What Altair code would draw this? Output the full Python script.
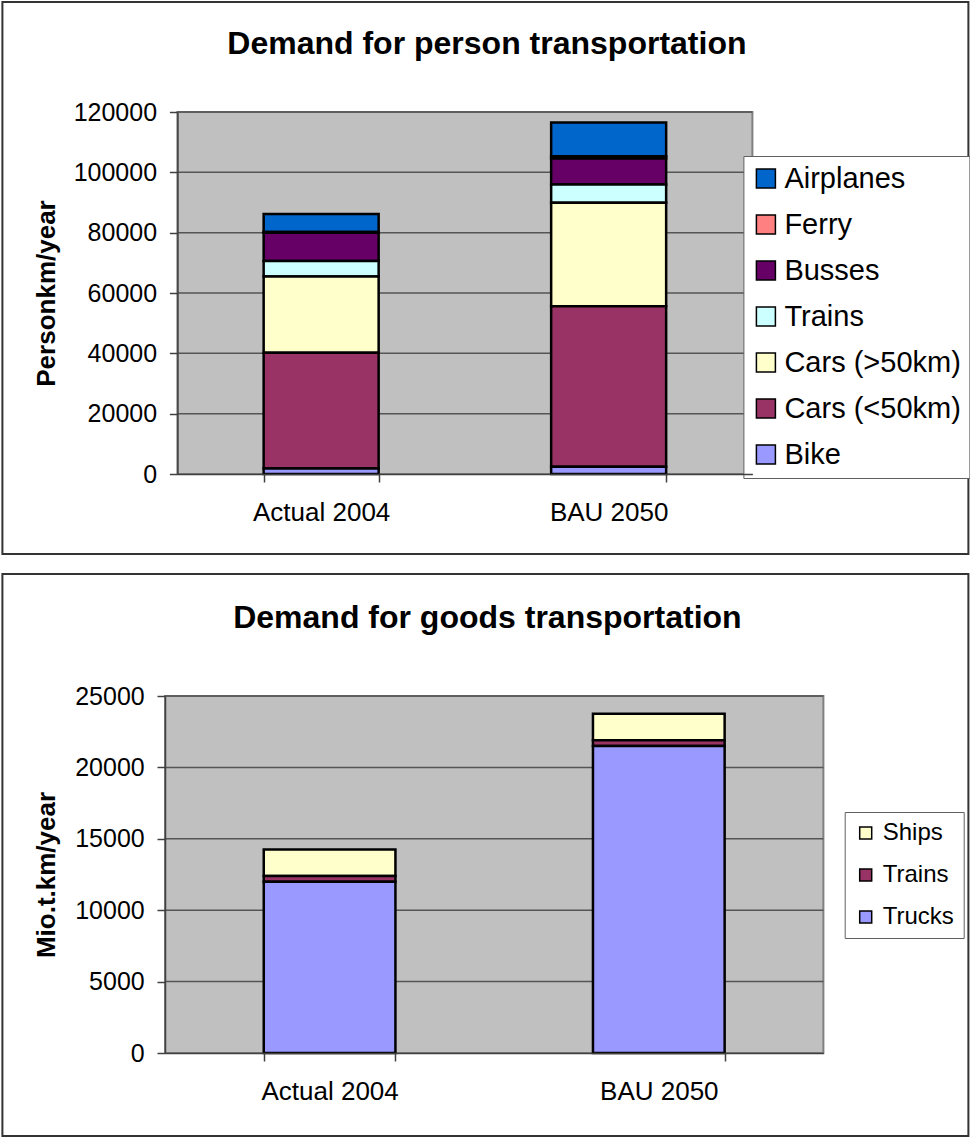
import altair as alt
import pandas as pd

# ---------------- data ----------------
scenarios = ["Actual 2004", "BAU 2050"]

person_modes = ["Airplanes", "Ferry", "Busses", "Trains", "Cars (>50km)", "Cars (<50km)", "Bike"]
person_colors = ["#0066CC", "#FF8080", "#660066", "#CCFFFF", "#FFFFCC", "#993366", "#9999FF"]
airplanes = [6000, 11200]
ferry = [200, 700]
busses = [9400, 8600]
trains_person = [5100, 6100]
cars_long = [25300, 34300]
cars_short = [38400, 53200]
bike = [1800, 2400]
person_ticks = [0, 20000, 40000, 60000, 80000, 100000, 120000]

goods_modes = ["Ships", "Trains", "Trucks"]
goods_colors = ["#FFFFCC", "#993366", "#9999FF"]
ships = [1850, 1850]
trains_goods = [400, 400]
trucks = [12000, 21500]
goods_ticks = [0, 5000, 10000, 15000, 20000, 25000]

FONT = "Liberation Sans"


def build(modes, series):
    rows = []
    n = len(modes)
    for k, (m, vals) in enumerate(zip(modes, series)):
        for j, sc in enumerate(scenarios):
            rows.append({"scenario": sc, "mode": m, "value": vals[j], "stack": n - 1 - k})
    return pd.DataFrame(rows)


person_df = build(person_modes, [airplanes, ferry, busses, trains_person, cars_long, cars_short, bike])
goods_df = build(goods_modes, [ships, trains_goods, trucks])


def panel(df, modes, colors, ticks, ymax, d, pw, h, title, tx, ty, ytitle,
          border, legx, legy, symsize, labsize, rowpad, legpad, laboff):
    W = d + pw
    yaxis = alt.Axis(values=ticks, format="d", grid=False, tickSize=8, labelPadding=12.8,
                     labelFontSize=25, labelFont=FONT, labelColor="black",
                     domainColor="#404040", domainWidth=1.5, tickColor="#404040", tickWidth=1.5,
                     offset=-d, zindex=1,
                     title=ytitle, titleFont=FONT, titleFontSize=26, titleFontWeight="bold",
                     titleColor="black", titleAngle=270, titleAlign="center",
                     titleBaseline="alphabetic", titleX=54.3 - (164.6 + d), titleY=h / 2)
    xaxis = alt.Axis(title=None, labelAngle=0, tickBand="extent", tickSize=8, labelPadding=38,
                     labelBaseline="alphabetic", labelFontSize=26, labelFont=FONT,
                     labelColor="black", domainColor="#404040", domainWidth=1.5,
                     tickColor="#404040", tickWidth=1.5, grid=False, zindex=1)
    yscale = alt.Scale(domain=[0, ymax], nice=False)

    frame = alt.Chart(pd.DataFrame({"k": [1]})).mark_rect(
        fillOpacity=0, stroke="#333333", strokeWidth=2
    ).encode(x=alt.value(border[0]), x2=alt.value(border[1]),
             y=alt.value(border[2]), y2=alt.value(border[3]))

    plotbg = alt.Chart(pd.DataFrame({"k": [1]})).mark_rect(
        fill="#C0C0C0", stroke="#808080", strokeWidth=2
    ).encode(x=alt.value(d), x2=alt.value(W), y=alt.value(0), y2=alt.value(h))

    grid = alt.Chart(pd.DataFrame({"value": ticks[1:]})).mark_rule(
        color="#555555", strokeWidth=1.5
    ).encode(y=alt.Y("value:Q", scale=yscale, axis=yaxis),
             x=alt.value(d), x2=alt.value(W))

    bars = alt.Chart(df).mark_bar(stroke="black", strokeWidth=2.5).encode(
        x=alt.X("scenario:N", sort=scenarios,
                scale=alt.Scale(range=[d, W], paddingInner=0.6, paddingOuter=0.3),
                axis=xaxis),
        y=alt.Y("value:Q", stack="zero", scale=yscale, axis=yaxis),
        color=alt.Color("mode:N", scale=alt.Scale(domain=modes, range=colors),
                        legend=alt.Legend(title=None, orient="none", legendX=legx, legendY=legy,
                                          symbolType="square", symbolSize=symsize,
                                          symbolStrokeColor="black", symbolStrokeWidth=1.5,
                                          labelFontSize=labsize, labelFont=FONT,
                                          labelColor="black", rowPadding=rowpad,
                                          padding=legpad, labelOffset=laboff, labelLimit=400,
                                          fillColor="white", strokeColor="#606060")),
        order=alt.Order("stack:Q", sort="ascending"),
    )

    ttl = alt.Chart(pd.DataFrame({"t": [title]})).mark_text(
        font=FONT, fontSize=32, fontWeight="bold", color="black",
        align="center", baseline="alphabetic"
    ).encode(x=alt.value(tx), y=alt.value(ty), text="t:N")

    return alt.layer(frame, plotbg, grid, bars, ttl).properties(width=W, height=h)


top = panel(person_df, person_modes, person_colors, person_ticks, 120000,
            12.4, 575, 362, "Demand for person transportation", 321.9, -58.5,
            "Personkm/year", (-162.6, 803.4, -110, 442), 578.4, 44, 361, 29, 16, 8, 4)

bottom = panel(goods_df, goods_modes, goods_colors, goods_ticks, 25000,
               0, 658.4, 357, "Demand for goods transportation", 322.4, -68.5,
               "Mio.t.km/year", (-162.6, 803.4, -122, 440), 679.7, 116, 144, 24, 18, 9, 5)

chart = alt.vconcat(top, bottom, spacing=18).resolve_scale(
    color="independent", x="independent", y="independent"
).resolve_legend(color="independent").properties(
    padding={"left": 1, "top": 1, "right": 0, "bottom": 0}, background="white"
).configure_view(strokeWidth=0, fill="white")

chart.save("out.html", embed_options={"renderer": "svg", "actions": False})
